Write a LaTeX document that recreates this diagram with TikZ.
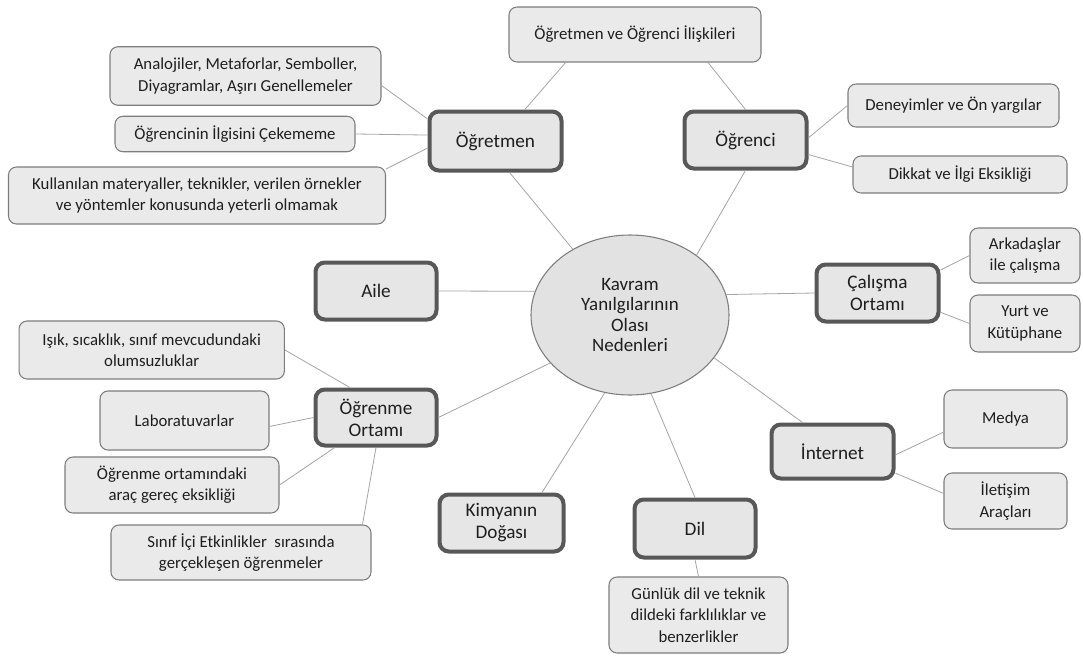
\documentclass[tikz,border=0pt]{standalone}
\usepackage{fontspec}
\setmainfont{Carlito}
\usetikzlibrary{shapes.geometric}
\definecolor{leaffill}{RGB}{234,234,234}
\definecolor{leafline}{RGB}{125,125,125}
\definecolor{mainfill}{RGB}{230,230,230}
\definecolor{mainline}{RGB}{88,88,88}
\definecolor{ellfill}{RGB}{226,226,226}
\definecolor{connc}{RGB}{165,165,165}
\definecolor{txt}{RGB}{30,30,30}
\tikzset{
  leaf/.style={draw=leafline, fill=leaffill, rounded corners=6pt, line width=0.8pt,
    font=\fontsize{12.6}{16}\selectfont, align=center, inner sep=0pt, text=txt},
  mainbox/.style={draw=mainline, fill=mainfill, rounded corners=7pt, line width=3pt,
    font=\fontsize{14.4}{16.5}\selectfont, align=center, inner sep=0pt, text=txt},
  hub/.style={ellipse, draw=leafline, fill=ellfill, line width=0.8pt,
    font=\fontsize{14.2}{15.2}\selectfont, align=center, inner sep=0pt, text=txt},
  conn/.style={draw=connc, line width=0.6pt}
}
\begin{document}
\begin{tikzpicture}[x=0.75pt, y=-0.75pt]
\useasboundingbox[fill=white] (0,0) rectangle (1083,657);

% hub
\node[hub, minimum width=148.5pt, minimum height=120pt] (hub) at (630,315)
  {Kavram\\Yanılgılarının\\Olası\\Nedenleri};

% main categories
\node[mainbox, minimum width=99pt, minimum height=44.25pt] (ogretmen) at (495.5,141) {Öğretmen};
\node[mainbox, minimum width=91.5pt, minimum height=42.75pt] (ogrenci) at (745.5,140) {Öğrenci};
\node[mainbox, minimum width=90.75pt, minimum height=42.75pt] (aile) at (376,291) {Aile};
\node[mainbox, minimum width=91.5pt, minimum height=42.75pt] (calisma) at (877.5,293) {Çalışma\\Ortamı};
\node[mainbox, minimum width=90.75pt, minimum height=42pt] (ogrenme) at (376,417.5) {Öğrenme\\Ortamı};
\node[mainbox, minimum width=93pt, minimum height=42.75pt] (kimya) at (501.5,523) {Kimyanın\\Doğası};
\node[mainbox, minimum width=90.75pt, minimum height=43.5pt] (dil) at (695,528.5) {Dil};
\node[mainbox, minimum width=91.5pt, minimum height=40.5pt] (internet) at (832.5,451.5) {İnternet};

% leaves
\node[leaf, minimum width=189pt, minimum height=41.25pt] (iliski) at (635,34.5) {Öğretmen ve Öğrenci İlişkileri};
\node[leaf, minimum width=203.25pt, minimum height=43.9pt] (analoji) at (245.5,76) {Analojiler, Metaforlar, Semboller,\\Diyagramlar, Aşırı Genellemeler};
\node[leaf, minimum width=180pt, minimum height=26.6pt] (ilgi) at (235,134) {Öğrencinin İlgisini Çekememe};
\node[leaf, minimum width=282.75pt, minimum height=42.75pt] (kullan) at (197,195.5) {Kullanılan materyaller, teknikler, verilen örnekler\\ve yöntemler konusunda yeterli olmamak};
\node[leaf, minimum width=158.25pt, minimum height=32.25pt] (deney) at (953.5,105.5) {Deneyimler ve Ön yargılar};
\node[leaf, minimum width=160.5pt, minimum height=27.75pt] (dikkat) at (960,174.5) {Dikkat ve İlgi Eksikliği};
\node[leaf, minimum width=82.5pt, minimum height=41.25pt] (arkadas) at (1025,255.5) {Arkadaşlar\\ile çalışma};
\node[leaf, minimum width=82.5pt, minimum height=42.75pt] (yurt) at (1025,323.5) {Yurt ve\\Kütüphane};
\node[leaf, minimum width=199pt, minimum height=43.5pt] (isik) at (151.7,350) {Işık, sıcaklık, sınıf mevcudundaki\\olumsuzluklar};
\node[leaf, minimum width=126.75pt, minimum height=44.25pt] (lab) at (184.5,420.5) {Laboratuvarlar};
\node[leaf, minimum width=160.5pt, minimum height=42pt] (ortam) at (172,485) {Öğrenme ortamındaki\\araç gereç eksikliği};
\node[leaf, minimum width=195pt, minimum height=41.25pt] (sinif) at (241,552.5) {Sınıf İçi Etkinlikler~ sırasında\\gerçekleşen öğrenmeler};
\node[leaf, minimum width=134.25pt, minimum height=57pt] (gunluk) at (698.5,615) {Günlük dil ve teknik\\dildeki farklılıklar ve\\benzerlikler};
\node[leaf, minimum width=92.25pt, minimum height=43.5pt] (medya) at (1005.5,419) {Medya};
\node[leaf, minimum width=92.25pt, minimum height=42pt] (iletisim) at (1005.5,501) {İletişim\\Araçları};

% connectors from the hub
\draw[conn] (ogretmen.-66) -- (hub.131);
\draw[conn] (ogrenci.south) -- (hub.42);
\draw[conn] (aile.east) -- (hub.166);
\draw[conn] (hub.12) -- (calisma.west);
\draw[conn] (ogrenme.east) -- (hub.-149);
\draw[conn] (hub.-27) -- (internet.136);
\draw[conn] (hub.-108) -- (kimya.37);
\draw[conn] (hub.-75) -- (dil.north);

% Öğretmen / Öğrenci
\draw[conn] (ogretmen.47) -- (iliski.-158);
\draw[conn] (ogrenci.north) -- (iliski.-21.6);
\draw[conn] (ogretmen.162) -- (analoji.-4);
\draw[conn] (ogretmen.175) -- (ilgi.east);
\draw[conn] (ogretmen.186) -- (kullan.8);
\draw[conn] (ogrenci.2.7) -- (deney.west);
\draw[conn] (ogrenci.-13.5) -- (dikkat.176);

% Çalışma Ortamı
\draw[conn] (calisma.20) -- (arkadas.west);
\draw[conn] (calisma.-17) -- (yurt.west);

% Öğrenme Ortamı
\draw[conn] (ogrenme.131) -- (isik.east);
\draw[conn] (ogrenme.west) -- (lab.-4);
\draw[conn] (ogrenme.-144) -- (ortam.east);
\draw[conn] (ogrenme.south) -- (sinif.13);

% İnternet
\draw[conn] (internet.-3) -- (medya.-168);
\draw[conn] (internet.-19) -- (iletisim.173);

% Dil
\draw[conn] (dil.south) -- (gunluk.north);
\end{tikzpicture}
\end{document}
